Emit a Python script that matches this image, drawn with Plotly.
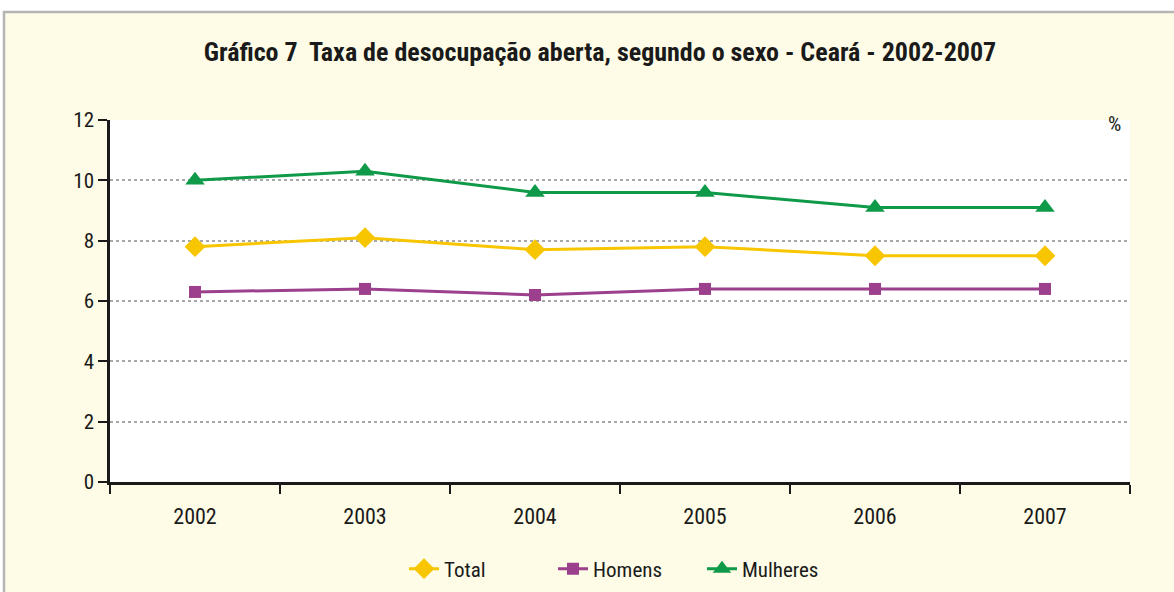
import plotly.graph_objects as go

years = ["2002", "2003", "2004", "2005", "2006", "2007"]
total = [7.8, 8.1, 7.7, 7.8, 7.5, 7.5]
homens = [6.3, 6.4, 6.2, 6.4, 6.4, 6.4]
mulheres = [10.0, 10.3, 9.6, 9.6, 9.1, 9.1]
y_ticks = [0, 2, 4, 6, 8, 10, 12]

title_text = "Gráfico 7  Taxa de desocupação aberta, segundo o sexo - Ceará - 2002-2007"

FONT = "Liberation Sans Narrow, Arial Narrow, Roboto Condensed, Liberation Sans, Arial, sans-serif"

W, H = 1174, 592
L, R, T, B = 110, 44, 120, 110
pw, ph = W - L - R, H - T - B

def px(x):
    return (x - L) / pw

def py(y):
    return (H - B - y) / ph

fig = go.Figure()

series = [
    ("Total", total, "#F7C600", "diamond", 16),
    ("Homens", homens, "#9C3F8C", "square", 12),
    ("Mulheres", mulheres, "#0E9A48", "triangle-up", 17),
]
for name, vals, color, sym, size in series:
    fig.add_trace(go.Scatter(
        x=years, y=vals, name=name, mode="lines+markers",
        line=dict(color=color, width=3),
        marker=dict(symbol=sym, size=size, color=color),
        cliponaxis=False,
    ))

shapes = [
    dict(type="rect", xref="paper", yref="paper", layer="below",
         x0=px(4), x1=px(1180), y0=py(600), y1=py(12),
         fillcolor="#FEFCE6", line=dict(color="#B5B5B5", width=2.5)),
    dict(type="rect", xref="paper", yref="paper", layer="below",
         x0=0, x1=1, y0=0, y1=1,
         fillcolor="#FFFFFF", line=dict(width=0)),
]

fig.update_layout(
    width=W, height=H,
    margin=dict(l=L, r=R, t=T, b=B, autoexpand=False),
    paper_bgcolor="#FFFFFF",
    plot_bgcolor="rgba(0,0,0,0)",
    font=dict(family=FONT, size=20, color="#1a1a1a"),
    shapes=shapes,
    title=dict(text="<b>" + title_text + "</b>", x=px(600), xref="paper",
               xanchor="center", y=1 - 52 / H, yanchor="middle",
               font=dict(family=FONT, size=26, color="#1a1a1a")),
    showlegend=True,
    legend=dict(orientation="h", x=px(404), xanchor="left",
                y=py(569), yanchor="middle",
                entrywidth=104, entrywidthmode="pixels",
                font=dict(family=FONT, size=21, color="#1a1a1a"),
                bgcolor="rgba(0,0,0,0)", tracegroupgap=0),
    annotations=[dict(text="%", xref="paper", yref="paper",
                      x=px(1123), y=py(110), showarrow=False,
                      font=dict(family=FONT, size=21, color="#1a1a1a"))],
)

fig.update_xaxes(
    type="category", range=[-0.5, 5.5],
    showline=True, linecolor="#1a1a1a", linewidth=3,
    ticks="outside", tickson="boundaries", ticklen=9, tickwidth=2,
    tickcolor="#1a1a1a", showgrid=False, zeroline=False,
    ticklabelstandoff=13,
    tickfont=dict(family=FONT, size=22, color="#1a1a1a"),
)
fig.update_yaxes(
    range=[0, 12], tickvals=y_ticks, ticktext=[str(v) for v in y_ticks],
    showline=True, linecolor="#1a1a1a", linewidth=2.5,
    ticks="outside", ticklen=9, tickwidth=2, tickcolor="#1a1a1a",
    showgrid=True, gridcolor="#A8A8A8", gridwidth=1.5, griddash="dot",
    zeroline=False,
    tickfont=dict(family=FONT, size=21, color="#1a1a1a"),
)

fig.write_html("out.html", config={"displayModeBar": False},
               post_script="document.body.style.margin='0';")
